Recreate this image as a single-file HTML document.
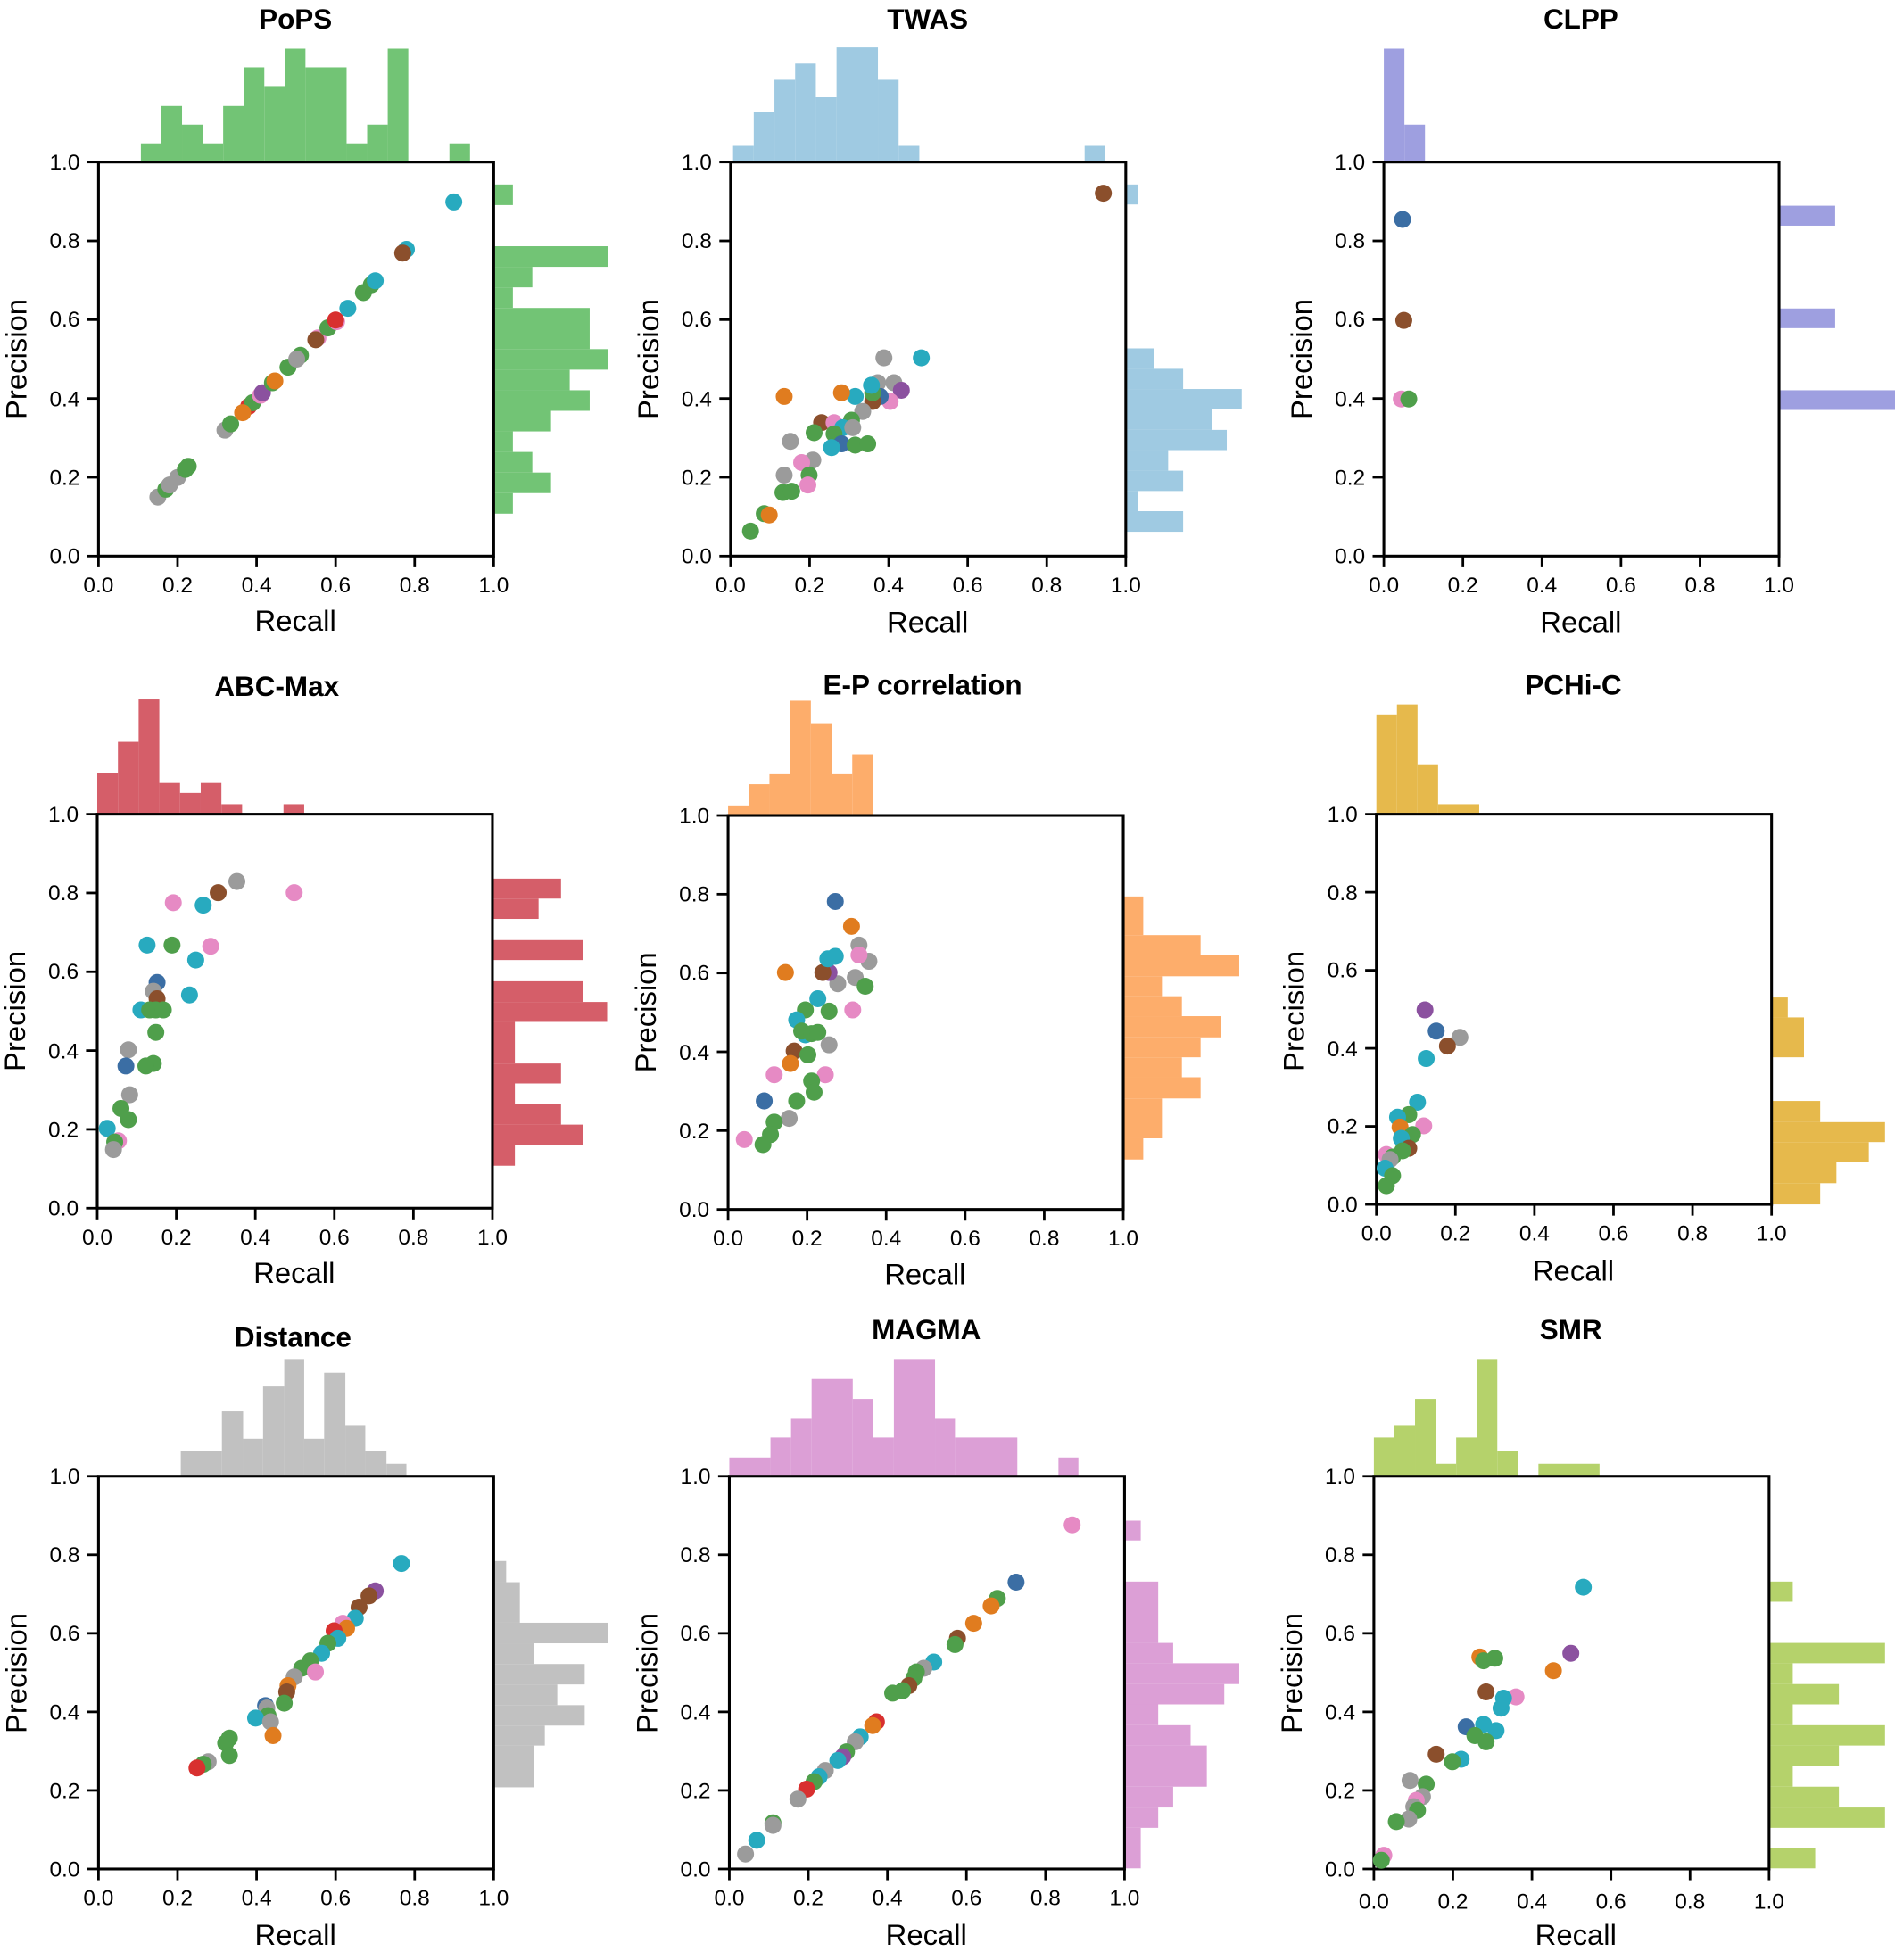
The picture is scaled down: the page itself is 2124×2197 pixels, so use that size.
<!DOCTYPE html>
<html><head><meta charset="utf-8"><style>
html,body{margin:0;padding:0;background:#fff}
svg{display:block}
text{font-family:"Liberation Sans",Arial,sans-serif;fill:#000}
.tk{font-size:17.5px}
.al{font-size:23.5px}
.tt{font-size:22.5px;font-weight:bold}
.ax line{stroke:#000;stroke-width:2}
.bx{fill:none;stroke:#000;stroke-width:2.2}
circle{r:6.8px}
.g{fill:#4f9f4b}.t{fill:#28aabf}.y{fill:#9b9b9b}.b{fill:#3b6ea4}.o{fill:#e07c1f}.r{fill:#d8302f}.p{fill:#8b519f}.n{fill:#8b4f2c}.k{fill:#e68ac4}
</style></head><body>
<svg width="2124" height="2197" viewBox="0 0 1520 1572" preserveAspectRatio="none" xmlns="http://www.w3.org/2000/svg">
<rect width="1520" height="1572" fill="#fff"/>

<!-- ============ PoPS ============ -->
<g fill="#72c475">
<rect x="113" y="115" width="16.5" height="15"/><rect x="129.5" y="85" width="16.5" height="45"/><rect x="146" y="100" width="16.5" height="30"/><rect x="162.5" y="115" width="16.5" height="15"/><rect x="179" y="85" width="16.5" height="45"/><rect x="195.5" y="54" width="16.5" height="76"/><rect x="212" y="69" width="16.5" height="61"/><rect x="228.5" y="39" width="16.5" height="91"/><rect x="245" y="54" width="33" height="76"/><rect x="278" y="115" width="16.5" height="15"/><rect x="294.5" y="100" width="16.5" height="30"/><rect x="311" y="39" width="16.5" height="91"/><rect x="360.5" y="115" width="16.5" height="15"/>
<rect x="396" y="148" width="15.4" height="16.5"/><rect x="396" y="197.5" width="92" height="16.5"/><rect x="396" y="214" width="31" height="16.5"/><rect x="396" y="230.5" width="15.4" height="16.5"/><rect x="396" y="247" width="77" height="33"/><rect x="396" y="280" width="92" height="16.5"/><rect x="396" y="296.5" width="61" height="16.5"/><rect x="396" y="313" width="77" height="16.5"/><rect x="396" y="329.5" width="46" height="16.5"/><rect x="396" y="346" width="15.4" height="16.5"/><rect x="396" y="362.5" width="31" height="16.5"/><rect x="396" y="379" width="46" height="16.5"/><rect x="396" y="395.5" width="15.4" height="16.5"/>
</g>
<g transform="translate(79,130)">
<rect class="bx" x="0" y="0" width="317" height="316"/>
<g class="ax"><line x1="-9" y1="0" x2="0" y2="0"/><line x1="-9" y1="63.2" x2="0" y2="63.2"/><line x1="-9" y1="126.4" x2="0" y2="126.4"/><line x1="-9" y1="189.6" x2="0" y2="189.6"/><line x1="-9" y1="252.8" x2="0" y2="252.8"/><line x1="-9" y1="316" x2="0" y2="316"/>
<line x1="0" y1="316" x2="0" y2="325"/><line x1="63.4" y1="316" x2="63.4" y2="325"/><line x1="126.8" y1="316" x2="126.8" y2="325"/><line x1="190.2" y1="316" x2="190.2" y2="325"/><line x1="253.6" y1="316" x2="253.6" y2="325"/><line x1="317" y1="316" x2="317" y2="325"/></g>
<g class="tk" text-anchor="end"><text x="-15" y="6">1.0</text><text x="-15" y="69">0.8</text><text x="-15" y="132">0.6</text><text x="-15" y="196">0.4</text><text x="-15" y="259">0.2</text><text x="-15" y="322">0.0</text></g>
<g class="tk" text-anchor="middle"><text x="0" y="345">0.0</text><text x="63.4" y="345">0.2</text><text x="126.8" y="345">0.4</text><text x="190.2" y="345">0.6</text><text x="253.6" y="345">0.8</text><text x="317" y="345">1.0</text></g>
<text class="al" x="158" y="376" text-anchor="middle">Recall</text>
<text class="al" transform="translate(-58,158) rotate(-90)" text-anchor="middle">Precision</text>
<text class="tt" x="158" y="-107" text-anchor="middle">PoPS</text>
</g>
<g>
<circle class="y" cx="126.6" cy="398.7" r="6"/><circle class="g" cx="133" cy="392.4" r="6"/><circle class="y" cx="136" cy="389" r="6"/><circle class="y" cx="142.4" cy="383" r="6"/><circle class="g" cx="148.7" cy="376.5" r="6"/><circle class="g" cx="151" cy="374" r="6"/><circle class="y" cx="180.4" cy="345" r="6"/><circle class="g" cx="185" cy="340" r="6"/><circle class="r" cx="199.4" cy="326" r="6"/><circle class="g" cx="202.6" cy="323" r="6"/><circle class="o" cx="194.6" cy="331" r="6"/><circle class="k" cx="209" cy="317" r="6"/><circle class="p" cx="210.5" cy="315" r="6"/><circle class="g" cx="218.5" cy="307" r="6"/><circle class="o" cx="220.5" cy="305.5" r="6"/><circle class="g" cx="231" cy="294.5" r="6"/><circle class="g" cx="241" cy="285" r="6"/><circle class="y" cx="238" cy="288" r="6"/><circle class="k" cx="255" cy="271" r="6"/><circle class="n" cx="253.3" cy="272.5" r="6"/><circle class="g" cx="263" cy="263" r="6"/><circle class="k" cx="270" cy="258" r="6"/><circle class="r" cx="269.2" cy="256.7" r="6"/><circle class="t" cx="279" cy="247.3" r="6"/><circle class="g" cx="291.5" cy="234.7" r="6"/><circle class="g" cx="297.8" cy="228.4" r="6"/><circle class="t" cx="301" cy="225.2" r="6"/><circle class="t" cx="326" cy="200" r="6"/><circle class="n" cx="323" cy="203" r="6"/><circle class="t" cx="364" cy="162" r="6"/>
</g>

<!-- ============ TWAS ============ -->
<g fill="#9fcae2">
<rect x="588" y="117" width="16.6" height="13"/><rect x="604.6" y="90" width="16.6" height="40"/><rect x="621.2" y="64" width="16.6" height="66"/><rect x="637.8" y="51" width="16.6" height="79"/><rect x="654.4" y="78" width="16.6" height="52"/><rect x="671" y="38" width="33.2" height="92"/><rect x="704.2" y="64" width="16.6" height="66"/><rect x="720.8" y="117" width="16.6" height="13"/><rect x="870" y="117" width="16.6" height="13"/>
<rect x="903" y="148" width="10" height="16"/><rect x="903" y="279.4" width="23" height="16.4"/><rect x="903" y="295.8" width="46" height="16.2"/><rect x="903" y="312" width="93" height="16.4"/><rect x="903" y="328.4" width="69" height="16.4"/><rect x="903" y="344.8" width="81" height="16.2"/><rect x="903" y="361" width="34" height="16.5"/><rect x="903" y="377.5" width="46" height="16.3"/><rect x="903" y="393.8" width="10" height="16.2"/><rect x="903" y="410" width="46" height="16.5"/>
</g>
<g transform="translate(586,130)">
<rect class="bx" x="0" y="0" width="317" height="316"/>
<g class="ax"><line x1="-9" y1="0" x2="0" y2="0"/><line x1="-9" y1="63.2" x2="0" y2="63.2"/><line x1="-9" y1="126.4" x2="0" y2="126.4"/><line x1="-9" y1="189.6" x2="0" y2="189.6"/><line x1="-9" y1="252.8" x2="0" y2="252.8"/><line x1="-9" y1="316" x2="0" y2="316"/>
<line x1="0" y1="316" x2="0" y2="325"/><line x1="63.4" y1="316" x2="63.4" y2="325"/><line x1="126.8" y1="316" x2="126.8" y2="325"/><line x1="190.2" y1="316" x2="190.2" y2="325"/><line x1="253.6" y1="316" x2="253.6" y2="325"/><line x1="317" y1="316" x2="317" y2="325"/></g>
<g class="tk" text-anchor="end"><text x="-15" y="6">1.0</text><text x="-15" y="69">0.8</text><text x="-15" y="132">0.6</text><text x="-15" y="196">0.4</text><text x="-15" y="259">0.2</text><text x="-15" y="322">0.0</text></g>
<g class="tk" text-anchor="middle"><text x="0" y="345">0.0</text><text x="63.4" y="345">0.2</text><text x="126.8" y="345">0.4</text><text x="190.2" y="345">0.6</text><text x="253.6" y="345">0.8</text><text x="317" y="345">1.0</text></g>
<text class="al" x="158" y="377" text-anchor="middle">Recall</text>
<text class="al" transform="translate(-58,158) rotate(-90)" text-anchor="middle">Precision</text>
<text class="tt" x="158" y="-107" text-anchor="middle">TWAS</text>
</g>
<g>
<circle class="n" cx="885" cy="155" r="6"/><circle class="t" cx="739" cy="287" r="6"/><circle class="y" cx="709" cy="287" r="6"/><circle class="y" cx="704" cy="307" r="6"/><circle class="y" cx="717" cy="307" r="6"/><circle class="p" cx="723" cy="313" r="6"/><circle class="k" cx="714" cy="322" r="6"/><circle class="b" cx="706" cy="318" r="6"/><circle class="n" cx="700" cy="322" r="6"/><circle class="g" cx="700" cy="315" r="6"/><circle class="t" cx="699" cy="309" r="6"/><circle class="t" cx="686" cy="318" r="6"/><circle class="o" cx="675" cy="315" r="6"/><circle class="o" cx="629" cy="318" r="6"/><circle class="y" cx="692" cy="330" r="6"/><circle class="g" cx="683" cy="337" r="6"/><circle class="n" cx="659" cy="339" r="6"/><circle class="k" cx="669" cy="339" r="6"/><circle class="t" cx="676" cy="343" r="6"/><circle class="y" cx="684" cy="343" r="6"/><circle class="g" cx="669" cy="348" r="6"/><circle class="g" cx="653" cy="347" r="6"/><circle class="y" cx="634" cy="354" r="6"/><circle class="b" cx="675" cy="356" r="6"/><circle class="t" cx="667" cy="359" r="6"/><circle class="g" cx="686" cy="357" r="6"/><circle class="g" cx="696" cy="356" r="6"/><circle class="y" cx="652" cy="369" r="6"/><circle class="k" cx="643" cy="371" r="6"/><circle class="g" cx="649" cy="381" r="6"/><circle class="y" cx="629" cy="381" r="6"/><circle class="k" cx="648" cy="389" r="6"/><circle class="g" cx="628" cy="395" r="6"/><circle class="g" cx="635" cy="394" r="6"/><circle class="g" cx="613" cy="412" r="6"/><circle class="o" cx="617" cy="413" r="6"/><circle class="g" cx="602" cy="426" r="6"/>
</g>

<!-- ============ CLPP ============ -->
<g fill="#9e9fe0">
<rect x="1110" y="39" width="16.5" height="91"/><rect x="1126.5" y="100" width="16.5" height="30"/>
<rect x="1427" y="165" width="45" height="16"/><rect x="1427" y="247.4" width="45" height="15.8"/><rect x="1427" y="313" width="93" height="15.8"/>
</g>
<g transform="translate(1110,130)">
<rect class="bx" x="0" y="0" width="317" height="316"/>
<g class="ax"><line x1="-9" y1="0" x2="0" y2="0"/><line x1="-9" y1="63.2" x2="0" y2="63.2"/><line x1="-9" y1="126.4" x2="0" y2="126.4"/><line x1="-9" y1="189.6" x2="0" y2="189.6"/><line x1="-9" y1="252.8" x2="0" y2="252.8"/><line x1="-9" y1="316" x2="0" y2="316"/>
<line x1="0" y1="316" x2="0" y2="325"/><line x1="63.4" y1="316" x2="63.4" y2="325"/><line x1="126.8" y1="316" x2="126.8" y2="325"/><line x1="190.2" y1="316" x2="190.2" y2="325"/><line x1="253.6" y1="316" x2="253.6" y2="325"/><line x1="317" y1="316" x2="317" y2="325"/></g>
<g class="tk" text-anchor="end"><text x="-15" y="6">1.0</text><text x="-15" y="69">0.8</text><text x="-15" y="132">0.6</text><text x="-15" y="196">0.4</text><text x="-15" y="259">0.2</text><text x="-15" y="322">0.0</text></g>
<g class="tk" text-anchor="middle"><text x="0" y="345">0.0</text><text x="63.4" y="345">0.2</text><text x="126.8" y="345">0.4</text><text x="190.2" y="345">0.6</text><text x="253.6" y="345">0.8</text><text x="317" y="345">1.0</text></g>
<text class="al" x="158" y="377" text-anchor="middle">Recall</text>
<text class="al" transform="translate(-58,158) rotate(-90)" text-anchor="middle">Precision</text>
<text class="tt" x="158" y="-107" text-anchor="middle">CLPP</text>
</g>
<g><circle class="b" cx="1125" cy="176" r="6"/><circle class="n" cx="1126" cy="257" r="6"/><circle class="k" cx="1124" cy="320" r="6"/><circle class="g" cx="1130" cy="320" r="6"/></g>

<!-- ============ ABC-Max ============ -->
<g fill="#d55e69">
<rect x="78" y="620" width="16.6" height="33"/><rect x="94.6" y="595" width="16.6" height="58"/><rect x="111.2" y="561" width="16.6" height="92"/><rect x="127.8" y="628" width="16.6" height="25"/><rect x="144.4" y="636" width="16.6" height="17"/><rect x="161" y="628" width="16.6" height="25"/><rect x="177.6" y="645" width="16.6" height="8"/><rect x="227.4" y="645" width="16.6" height="8"/>
<rect x="395" y="704.7" width="55" height="16"/><rect x="395" y="720.7" width="37" height="16.3"/><rect x="395" y="754" width="73" height="16"/><rect x="395" y="787" width="73" height="16.6"/><rect x="395" y="803.6" width="92" height="16"/><rect x="395" y="819.6" width="18" height="33.4"/><rect x="395" y="853" width="55" height="16"/><rect x="395" y="869" width="18" height="16.5"/><rect x="395" y="885.5" width="55" height="16.5"/><rect x="395" y="902" width="73" height="16.5"/><rect x="395" y="918.5" width="18" height="16.5"/>
</g>
<g transform="translate(78,653)">
<rect class="bx" x="0" y="0" width="317" height="316"/>
<g class="ax"><line x1="-9" y1="0" x2="0" y2="0"/><line x1="-9" y1="63.2" x2="0" y2="63.2"/><line x1="-9" y1="126.4" x2="0" y2="126.4"/><line x1="-9" y1="189.6" x2="0" y2="189.6"/><line x1="-9" y1="252.8" x2="0" y2="252.8"/><line x1="-9" y1="316" x2="0" y2="316"/>
<line x1="0" y1="316" x2="0" y2="325"/><line x1="63.4" y1="316" x2="63.4" y2="325"/><line x1="126.8" y1="316" x2="126.8" y2="325"/><line x1="190.2" y1="316" x2="190.2" y2="325"/><line x1="253.6" y1="316" x2="253.6" y2="325"/><line x1="317" y1="316" x2="317" y2="325"/></g>
<g class="tk" text-anchor="end"><text x="-15" y="6">1.0</text><text x="-15" y="69">0.8</text><text x="-15" y="132">0.6</text><text x="-15" y="196">0.4</text><text x="-15" y="259">0.2</text><text x="-15" y="322">0.0</text></g>
<g class="tk" text-anchor="middle"><text x="0" y="345">0.0</text><text x="63.4" y="345">0.2</text><text x="126.8" y="345">0.4</text><text x="190.2" y="345">0.6</text><text x="253.6" y="345">0.8</text><text x="317" y="345">1.0</text></g>
<text class="al" x="158" y="376" text-anchor="middle">Recall</text>
<text class="al" transform="translate(-58,158) rotate(-90)" text-anchor="middle">Precision</text>
<text class="tt" x="144" y="-95" text-anchor="middle">ABC-Max</text>
</g>
<g>
<circle class="y" cx="190" cy="707" r="6"/><circle class="n" cx="175" cy="716" r="6"/><circle class="k" cx="139" cy="724" r="6"/><circle class="k" cx="236" cy="716" r="6"/><circle class="t" cx="163" cy="726" r="6"/><circle class="k" cx="169" cy="759" r="6"/><circle class="t" cx="118" cy="758" r="6"/><circle class="g" cx="138" cy="758" r="6"/><circle class="t" cx="157" cy="770" r="6"/><circle class="t" cx="152" cy="798" r="6"/><circle class="b" cx="126" cy="788" r="6"/><circle class="y" cx="123" cy="795" r="6"/><circle class="n" cx="126" cy="801" r="6"/><circle class="t" cx="113" cy="810" r="6"/><circle class="g" cx="120" cy="810" r="6"/><circle class="g" cx="125" cy="810" r="6"/><circle class="g" cx="131" cy="810" r="6"/><circle class="g" cx="125" cy="828" r="6"/><circle class="g" cx="123" cy="853" r="6"/><circle class="g" cx="117" cy="855" r="6"/><circle class="y" cx="103" cy="842" r="6"/><circle class="b" cx="101" cy="855" r="6"/><circle class="y" cx="104" cy="878" r="6"/><circle class="g" cx="97" cy="889" r="6"/><circle class="g" cx="103" cy="898" r="6"/><circle class="t" cx="86" cy="905" r="6"/><circle class="k" cx="95" cy="915" r="6"/><circle class="g" cx="92" cy="916" r="6"/><circle class="y" cx="91" cy="922" r="6"/>
</g>

<!-- ============ E-P correlation ============ -->
<g fill="#fdad6b">
<rect x="584" y="646" width="16.6" height="8"/><rect x="600.6" y="629" width="16.6" height="25"/><rect x="617.2" y="621" width="16.6" height="33"/><rect x="633.8" y="562" width="16.6" height="92"/><rect x="650.4" y="580" width="16.6" height="74"/><rect x="667" y="621" width="16.6" height="33"/><rect x="683.6" y="605" width="16.6" height="49"/>
<rect x="901" y="719" width="16" height="31"/><rect x="901" y="750" width="62" height="16"/><rect x="901" y="766" width="93" height="17"/><rect x="901" y="783" width="31" height="16"/><rect x="901" y="799" width="47" height="16"/><rect x="901" y="815" width="78" height="17"/><rect x="901" y="832" width="62" height="16"/><rect x="901" y="848" width="47" height="16"/><rect x="901" y="864" width="62" height="17"/><rect x="901" y="881" width="31" height="32"/><rect x="901" y="913" width="16" height="17"/>
</g>
<g transform="translate(584,654)">
<rect class="bx" x="0" y="0" width="317" height="316"/>
<g class="ax"><line x1="-9" y1="0" x2="0" y2="0"/><line x1="-9" y1="63.2" x2="0" y2="63.2"/><line x1="-9" y1="126.4" x2="0" y2="126.4"/><line x1="-9" y1="189.6" x2="0" y2="189.6"/><line x1="-9" y1="252.8" x2="0" y2="252.8"/><line x1="-9" y1="316" x2="0" y2="316"/>
<line x1="0" y1="316" x2="0" y2="325"/><line x1="63.4" y1="316" x2="63.4" y2="325"/><line x1="126.8" y1="316" x2="126.8" y2="325"/><line x1="190.2" y1="316" x2="190.2" y2="325"/><line x1="253.6" y1="316" x2="253.6" y2="325"/><line x1="317" y1="316" x2="317" y2="325"/></g>
<g class="tk" text-anchor="end"><text x="-15" y="6">1.0</text><text x="-15" y="69">0.8</text><text x="-15" y="132">0.6</text><text x="-15" y="196">0.4</text><text x="-15" y="259">0.2</text><text x="-15" y="322">0.0</text></g>
<g class="tk" text-anchor="middle"><text x="0" y="345">0.0</text><text x="63.4" y="345">0.2</text><text x="126.8" y="345">0.4</text><text x="190.2" y="345">0.6</text><text x="253.6" y="345">0.8</text><text x="317" y="345">1.0</text></g>
<text class="al" x="158" y="376" text-anchor="middle">Recall</text>
<text class="al" transform="translate(-58,158) rotate(-90)" text-anchor="middle">Precision</text>
<text class="tt" x="156" y="-97" text-anchor="middle">E-P correlation</text>
</g>
<g>
<circle class="b" cx="670" cy="723" r="6"/><circle class="o" cx="683" cy="743" r="6"/><circle class="y" cx="689" cy="758" r="6"/><circle class="y" cx="697" cy="771" r="6"/><circle class="k" cx="689" cy="766" r="6"/><circle class="y" cx="686" cy="784" r="6"/><circle class="y" cx="672" cy="789" r="6"/><circle class="g" cx="694" cy="791" r="6"/><circle class="p" cx="665" cy="780" r="6"/><circle class="n" cx="660" cy="780" r="6"/><circle class="o" cx="630" cy="780" r="6"/><circle class="t" cx="664" cy="769" r="6"/><circle class="t" cx="670" cy="767" r="6"/><circle class="t" cx="656" cy="801" r="6"/><circle class="k" cx="684" cy="810" r="6"/><circle class="g" cx="665" cy="811" r="6"/><circle class="g" cx="646" cy="810" r="6"/><circle class="t" cx="639" cy="818" r="6"/><circle class="t" cx="646" cy="830" r="6"/><circle class="g" cx="643" cy="827" r="6"/><circle class="g" cx="651" cy="829" r="6"/><circle class="g" cx="656" cy="828" r="6"/><circle class="y" cx="665" cy="838" r="6"/><circle class="n" cx="637" cy="843" r="6"/><circle class="g" cx="648" cy="846" r="6"/><circle class="o" cx="634" cy="853" r="6"/><circle class="k" cx="621" cy="862" r="6"/><circle class="k" cx="662" cy="862" r="6"/><circle class="g" cx="651" cy="867" r="6"/><circle class="g" cx="653" cy="876" r="6"/><circle class="b" cx="613" cy="883" r="6"/><circle class="g" cx="639" cy="883" r="6"/><circle class="y" cx="633" cy="897" r="6"/><circle class="g" cx="621" cy="900" r="6"/><circle class="g" cx="618" cy="910" r="6"/><circle class="k" cx="597" cy="914" r="6"/><circle class="g" cx="612" cy="918" r="6"/>
</g>

<!-- ============ PCHi-C ============ -->
<g fill="#e6b94c">
<rect x="1104" y="573" width="16.5" height="80"/><rect x="1120.5" y="565" width="16.5" height="88"/><rect x="1137" y="613" width="16.5" height="40"/><rect x="1153.5" y="645" width="33" height="8"/>
<rect x="1421" y="800" width="13" height="16"/><rect x="1421" y="816" width="26" height="32"/><rect x="1421" y="883" width="39" height="17"/><rect x="1421" y="900" width="91" height="16"/><rect x="1421" y="916" width="78" height="16"/><rect x="1421" y="932" width="52" height="17"/><rect x="1421" y="949" width="39" height="17"/>
</g>
<g transform="translate(1104,653)">
<rect class="bx" x="0" y="0" width="317" height="313"/>
<g class="ax"><line x1="-9" y1="0" x2="0" y2="0"/><line x1="-9" y1="62.6" x2="0" y2="62.6"/><line x1="-9" y1="125.2" x2="0" y2="125.2"/><line x1="-9" y1="187.8" x2="0" y2="187.8"/><line x1="-9" y1="250.4" x2="0" y2="250.4"/><line x1="-9" y1="313" x2="0" y2="313"/>
<line x1="0" y1="313" x2="0" y2="322"/><line x1="63.4" y1="313" x2="63.4" y2="322"/><line x1="126.8" y1="313" x2="126.8" y2="322"/><line x1="190.2" y1="313" x2="190.2" y2="322"/><line x1="253.6" y1="313" x2="253.6" y2="322"/><line x1="317" y1="313" x2="317" y2="322"/></g>
<g class="tk" text-anchor="end"><text x="-15" y="6">1.0</text><text x="-15" y="69">0.8</text><text x="-15" y="131">0.6</text><text x="-15" y="194">0.4</text><text x="-15" y="256">0.2</text><text x="-15" y="319">0.0</text></g>
<g class="tk" text-anchor="middle"><text x="0" y="342">0.0</text><text x="63.4" y="342">0.2</text><text x="126.8" y="342">0.4</text><text x="190.2" y="342">0.6</text><text x="253.6" y="342">0.8</text><text x="317" y="342">1.0</text></g>
<text class="al" x="158" y="374" text-anchor="middle">Recall</text>
<text class="al" transform="translate(-58,158) rotate(-90)" text-anchor="middle">Precision</text>
<text class="tt" x="158" y="-96" text-anchor="middle">PCHi-C</text>
</g>
<g>
<circle class="p" cx="1143" cy="810" r="6"/><circle class="b" cx="1152" cy="827" r="6"/><circle class="y" cx="1171" cy="832" r="6"/><circle class="n" cx="1161" cy="839" r="6"/><circle class="t" cx="1144" cy="849" r="6"/><circle class="t" cx="1137" cy="884" r="6"/><circle class="g" cx="1130" cy="894" r="6"/><circle class="t" cx="1121" cy="896" r="6"/><circle class="k" cx="1142" cy="903" r="6"/><circle class="o" cx="1123" cy="904" r="6"/><circle class="g" cx="1133" cy="910" r="6"/><circle class="t" cx="1124" cy="913" r="6"/><circle class="n" cx="1130" cy="921" r="6"/><circle class="g" cx="1125" cy="923" r="6"/><circle class="k" cx="1112" cy="926" r="6"/><circle class="g" cx="1117" cy="928" r="6"/><circle class="y" cx="1115" cy="930" r="6"/><circle class="t" cx="1111" cy="937" r="6"/><circle class="g" cx="1117" cy="943" r="6"/><circle class="g" cx="1112" cy="951" r="6"/>
</g>

<!-- ============ Distance ============ -->
<g fill="#c1c1c1">
<rect x="145" y="1164" width="33" height="20"/><rect x="178" y="1132" width="17" height="52"/><rect x="195" y="1154" width="16" height="30"/><rect x="211" y="1112" width="17" height="72"/><rect x="228" y="1090" width="16" height="94"/><rect x="244" y="1154" width="16" height="30"/><rect x="260" y="1101" width="17" height="83"/><rect x="277" y="1143" width="16" height="41"/><rect x="293" y="1164" width="17" height="20"/><rect x="310" y="1174" width="16" height="10"/>
<rect x="396" y="1252" width="10" height="17"/><rect x="396" y="1269" width="21" height="32.5"/><rect x="396" y="1301.5" width="92" height="16.5"/><rect x="396" y="1318" width="32" height="16.6"/><rect x="396" y="1334.6" width="73" height="16.4"/><rect x="396" y="1351" width="51" height="16.6"/><rect x="396" y="1367.6" width="73" height="16.4"/><rect x="396" y="1384" width="41" height="16"/><rect x="396" y="1400" width="32" height="33.5"/>
</g>
<g transform="translate(79,1184)">
<rect class="bx" x="0" y="0" width="317" height="315"/>
<g class="ax"><line x1="-9" y1="0" x2="0" y2="0"/><line x1="-9" y1="63" x2="0" y2="63"/><line x1="-9" y1="126" x2="0" y2="126"/><line x1="-9" y1="189" x2="0" y2="189"/><line x1="-9" y1="252" x2="0" y2="252"/><line x1="-9" y1="315" x2="0" y2="315"/>
<line x1="0" y1="315" x2="0" y2="324"/><line x1="63.4" y1="315" x2="63.4" y2="324"/><line x1="126.8" y1="315" x2="126.8" y2="324"/><line x1="190.2" y1="315" x2="190.2" y2="324"/><line x1="253.6" y1="315" x2="253.6" y2="324"/><line x1="317" y1="315" x2="317" y2="324"/></g>
<g class="tk" text-anchor="end"><text x="-15" y="6">1.0</text><text x="-15" y="69">0.8</text><text x="-15" y="132">0.6</text><text x="-15" y="195">0.4</text><text x="-15" y="258">0.2</text><text x="-15" y="321">0.0</text></g>
<g class="tk" text-anchor="middle"><text x="0" y="344">0.0</text><text x="63.4" y="344">0.2</text><text x="126.8" y="344">0.4</text><text x="190.2" y="344">0.6</text><text x="253.6" y="344">0.8</text><text x="317" y="344">1.0</text></g>
<text class="al" x="158" y="376" text-anchor="middle">Recall</text>
<text class="al" transform="translate(-58,158) rotate(-90)" text-anchor="middle">Precision</text>
<text class="tt" x="156" y="-104" text-anchor="middle">Distance</text>
</g>
<g>
<circle class="t" cx="322" cy="1254" r="6"/><circle class="p" cx="301" cy="1276" r="6"/><circle class="n" cx="296" cy="1280" r="6"/><circle class="n" cx="288" cy="1289" r="6"/><circle class="t" cx="285" cy="1298" r="6"/><circle class="k" cx="275" cy="1302" r="6"/><circle class="o" cx="278" cy="1306" r="6"/><circle class="r" cx="268" cy="1308" r="6"/><circle class="t" cx="271" cy="1314" r="6"/><circle class="g" cx="263" cy="1318" r="6"/><circle class="t" cx="258" cy="1326" r="6"/><circle class="g" cx="249" cy="1332" r="6"/><circle class="g" cx="242" cy="1338" r="6"/><circle class="k" cx="253" cy="1341" r="6"/><circle class="y" cx="236" cy="1345" r="6"/><circle class="o" cx="231" cy="1352" r="6"/><circle class="n" cx="230" cy="1357" r="6"/><circle class="g" cx="228" cy="1366" r="6"/><circle class="b" cx="213" cy="1368" r="6"/><circle class="y" cx="214" cy="1370" r="6"/><circle class="g" cx="215" cy="1376" r="6"/><circle class="t" cx="205" cy="1378" r="6"/><circle class="y" cx="217" cy="1381" r="6"/><circle class="o" cx="219" cy="1392" r="6"/><circle class="g" cx="184" cy="1394" r="6"/><circle class="g" cx="181" cy="1398" r="6"/><circle class="g" cx="184" cy="1408" r="6"/><circle class="y" cx="167" cy="1413" r="6"/><circle class="g" cx="163" cy="1415" r="6"/><circle class="r" cx="158" cy="1418" r="6"/>
</g>

<!-- ============ MAGMA ============ -->
<g fill="#dc9fd6">
<rect x="585" y="1169" width="33" height="15"/><rect x="618" y="1153" width="16.5" height="31"/><rect x="634.5" y="1138" width="16.5" height="46"/><rect x="651" y="1106" width="33" height="78"/><rect x="684" y="1122" width="16.5" height="62"/><rect x="700.5" y="1153" width="16.5" height="31"/><rect x="717" y="1090" width="33" height="94"/><rect x="750" y="1138" width="16" height="46"/><rect x="766" y="1153" width="50" height="31"/><rect x="849" y="1169" width="16" height="15"/>
<rect x="902" y="1219.6" width="13" height="15.9"/><rect x="902" y="1268.5" width="27" height="49.2"/><rect x="902" y="1317.7" width="39" height="16.3"/><rect x="902" y="1334" width="92" height="16.7"/><rect x="902" y="1350.7" width="80" height="16.3"/><rect x="902" y="1367" width="27" height="16.7"/><rect x="902" y="1383.7" width="53" height="16.3"/><rect x="902" y="1400" width="66" height="33"/><rect x="902" y="1433" width="39" height="16.7"/><rect x="902" y="1449.7" width="27" height="16.3"/><rect x="902" y="1466" width="13" height="32.5"/>
</g>
<g transform="translate(585,1184)">
<rect class="bx" x="0" y="0" width="317" height="315"/>
<g class="ax"><line x1="-9" y1="0" x2="0" y2="0"/><line x1="-9" y1="63" x2="0" y2="63"/><line x1="-9" y1="126" x2="0" y2="126"/><line x1="-9" y1="189" x2="0" y2="189"/><line x1="-9" y1="252" x2="0" y2="252"/><line x1="-9" y1="315" x2="0" y2="315"/>
<line x1="0" y1="315" x2="0" y2="324"/><line x1="63.4" y1="315" x2="63.4" y2="324"/><line x1="126.8" y1="315" x2="126.8" y2="324"/><line x1="190.2" y1="315" x2="190.2" y2="324"/><line x1="253.6" y1="315" x2="253.6" y2="324"/><line x1="317" y1="315" x2="317" y2="324"/></g>
<g class="tk" text-anchor="end"><text x="-15" y="6">1.0</text><text x="-15" y="69">0.8</text><text x="-15" y="132">0.6</text><text x="-15" y="195">0.4</text><text x="-15" y="258">0.2</text><text x="-15" y="321">0.0</text></g>
<g class="tk" text-anchor="middle"><text x="0" y="344">0.0</text><text x="63.4" y="344">0.2</text><text x="126.8" y="344">0.4</text><text x="190.2" y="344">0.6</text><text x="253.6" y="344">0.8</text><text x="317" y="344">1.0</text></g>
<text class="al" x="158" y="376" text-anchor="middle">Recall</text>
<text class="al" transform="translate(-58,158) rotate(-90)" text-anchor="middle">Precision</text>
<text class="tt" x="158" y="-110" text-anchor="middle">MAGMA</text>
</g>
<g>
<circle class="k" cx="860" cy="1223" r="6"/><circle class="b" cx="815" cy="1269" r="6"/><circle class="g" cx="800" cy="1282" r="6"/><circle class="o" cx="795" cy="1288" r="6"/><circle class="o" cx="781" cy="1302" r="6"/><circle class="n" cx="768" cy="1314" r="6"/><circle class="g" cx="766" cy="1319" r="6"/><circle class="t" cx="749" cy="1333" r="6"/><circle class="y" cx="741" cy="1338" r="6"/><circle class="g" cx="735" cy="1341" r="6"/><circle class="g" cx="733" cy="1346" r="6"/><circle class="n" cx="729" cy="1352" r="6"/><circle class="g" cx="724" cy="1356" r="6"/><circle class="g" cx="716" cy="1358" r="6"/><circle class="r" cx="703" cy="1381" r="6"/><circle class="o" cx="700" cy="1384" r="6"/><circle class="t" cx="690" cy="1393" r="6"/><circle class="y" cx="686" cy="1397" r="6"/><circle class="g" cx="679" cy="1405" r="6"/><circle class="p" cx="676" cy="1409" r="6"/><circle class="t" cx="672" cy="1412" r="6"/><circle class="y" cx="662" cy="1420" r="6"/><circle class="t" cx="657" cy="1425" r="6"/><circle class="g" cx="653" cy="1429" r="6"/><circle class="r" cx="647" cy="1435" r="6"/><circle class="y" cx="640" cy="1443" r="6"/><circle class="g" cx="620" cy="1462" r="6"/><circle class="y" cx="620" cy="1464" r="6"/><circle class="t" cx="607" cy="1476" r="6"/><circle class="y" cx="598" cy="1487" r="6"/>
</g>

<!-- ============ SMR ============ -->
<g fill="#b5d26b">
<rect x="1102" y="1153" width="16.5" height="31"/><rect x="1118.5" y="1143" width="16.5" height="41"/><rect x="1135" y="1122" width="16.5" height="62"/><rect x="1151.5" y="1174" width="16.5" height="10"/><rect x="1168" y="1153" width="16.5" height="31"/><rect x="1184.5" y="1090" width="16.5" height="94"/><rect x="1201" y="1164" width="16.4" height="20"/><rect x="1234" y="1174" width="49" height="10"/>
<rect x="1419" y="1268.5" width="19" height="16.2"/><rect x="1419" y="1317.7" width="93" height="16.3"/><rect x="1419" y="1334" width="19" height="16.7"/><rect x="1419" y="1350.7" width="56" height="16.3"/><rect x="1419" y="1367" width="19" height="16.7"/><rect x="1419" y="1383.7" width="93" height="16.3"/><rect x="1419" y="1400" width="56" height="16.7"/><rect x="1419" y="1416.7" width="19" height="16.3"/><rect x="1419" y="1433" width="56" height="16.7"/><rect x="1419" y="1449.7" width="93" height="16.3"/><rect x="1419" y="1482" width="37" height="16.5"/>
</g>
<g transform="translate(1102,1184)">
<rect class="bx" x="0" y="0" width="317" height="315"/>
<g class="ax"><line x1="-9" y1="0" x2="0" y2="0"/><line x1="-9" y1="63" x2="0" y2="63"/><line x1="-9" y1="126" x2="0" y2="126"/><line x1="-9" y1="189" x2="0" y2="189"/><line x1="-9" y1="252" x2="0" y2="252"/><line x1="-9" y1="315" x2="0" y2="315"/>
<line x1="0" y1="315" x2="0" y2="324"/><line x1="63.4" y1="315" x2="63.4" y2="324"/><line x1="126.8" y1="315" x2="126.8" y2="324"/><line x1="190.2" y1="315" x2="190.2" y2="324"/><line x1="253.6" y1="315" x2="253.6" y2="324"/><line x1="317" y1="315" x2="317" y2="324"/></g>
<g class="tk" text-anchor="end"><text x="-15" y="6">1.0</text><text x="-15" y="69">0.8</text><text x="-15" y="132">0.6</text><text x="-15" y="195">0.4</text><text x="-15" y="258">0.2</text><text x="-15" y="321">0.0</text></g>
<g class="tk" text-anchor="middle"><text x="0" y="347">0.0</text><text x="63.4" y="347">0.2</text><text x="126.8" y="347">0.4</text><text x="190.2" y="347">0.6</text><text x="253.6" y="347">0.8</text><text x="317" y="347">1.0</text></g>
<text class="al" x="162" y="376" text-anchor="middle">Recall</text>
<text class="al" transform="translate(-58,158) rotate(-90)" text-anchor="middle">Precision</text>
<text class="tt" x="158" y="-110" text-anchor="middle">SMR</text>
</g>
<g>
<circle class="t" cx="1270" cy="1273" r="6"/><circle class="p" cx="1260" cy="1326" r="6"/><circle class="o" cx="1246" cy="1340" r="6"/><circle class="k" cx="1216" cy="1361" r="6"/><circle class="o" cx="1187" cy="1329" r="6"/><circle class="g" cx="1190" cy="1332" r="6"/><circle class="g" cx="1199" cy="1330" r="6"/><circle class="n" cx="1192" cy="1357" r="6"/><circle class="t" cx="1206" cy="1362" r="6"/><circle class="t" cx="1204" cy="1370" r="6"/><circle class="b" cx="1176" cy="1385" r="6"/><circle class="t" cx="1190" cy="1383" r="6"/><circle class="g" cx="1183" cy="1392" r="6"/><circle class="t" cx="1200" cy="1388" r="6"/><circle class="g" cx="1192" cy="1397" r="6"/><circle class="n" cx="1152" cy="1407" r="6"/><circle class="t" cx="1172" cy="1411" r="6"/><circle class="g" cx="1165" cy="1413" r="6"/><circle class="y" cx="1131" cy="1428" r="6"/><circle class="g" cx="1144" cy="1431" r="6"/><circle class="y" cx="1141" cy="1441" r="6"/><circle class="k" cx="1136" cy="1444" r="6"/><circle class="y" cx="1134" cy="1449" r="6"/><circle class="g" cx="1137" cy="1452" r="6"/><circle class="y" cx="1130" cy="1459" r="6"/><circle class="g" cx="1120" cy="1461" r="6"/><circle class="k" cx="1110" cy="1488" r="6"/><circle class="g" cx="1108" cy="1492" r="6"/>
</g>
</svg>
</body></html>
